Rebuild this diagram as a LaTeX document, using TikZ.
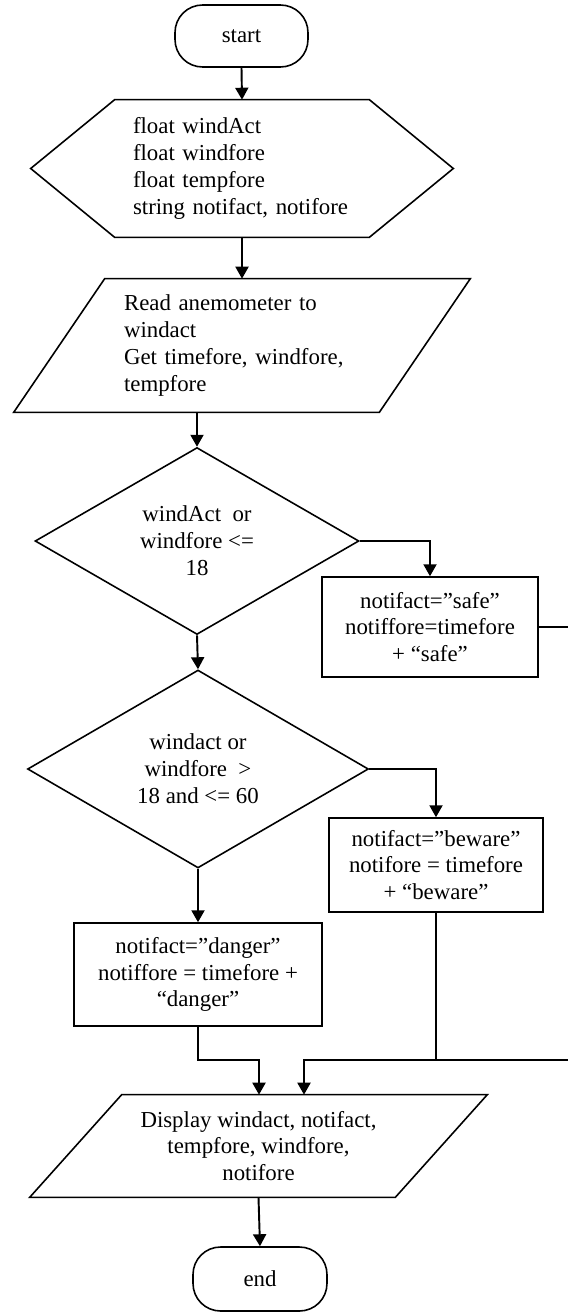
\documentclass[tikz,border=0pt]{standalone}
\usepackage{fontspec}
\setmainfont{Liberation Serif}
\usetikzlibrary{shapes.geometric,arrows.meta}

\begin{document}
\begin{tikzpicture}[x=0.02cm,y=-0.02cm]
    \tikzstyle{every node}=[font=\fontsize{13}{15.3}\selectfont,inner sep=0pt]
    \tikzstyle{arr}=[-{Triangle[length=6.8pt,width=7.4pt]},line width=1.1pt]
    \tikzstyle{outline}=[line width=0.9pt,line join=miter]
    \useasboundingbox (0,0) rectangle (568,1312);
    \fill[white] (0,0) rectangle (568,1312);
    \clip (0,0) rectangle (568,1312);

    % start
    \node[draw,outline,rounded corners=0.55cm,minimum width=2.66cm,minimum height=1.24cm] (start) at (241.5,36) {start};

    % declarations
    \node[minimum width=8.44cm,minimum height=2.74cm,text width=4.36cm,align=left] (decl) at (242,168.5) {float windAct\\float windfore\\float tempfore\\string notifact, notifore};
    \draw[outline] (decl.west) -- ([xshift=1.68cm]decl.north west) -- ([xshift=-1.68cm]decl.north east) -- (decl.east) -- ([xshift=-1.68cm]decl.south east) -- ([xshift=1.68cm]decl.south west) -- cycle;
    \draw[arr] (start.south) -- (decl.north);

    % input
    \node[minimum width=9.12cm,minimum height=2.66cm,text width=4.72cm,align=left] (readin) at (242,345.5) {Read anemometer to\\windact\\Get timefore, windfore,\\tempfore};
    \draw[outline] ([xshift=1.82cm]readin.north west) -- (readin.north east) -- ([xshift=-1.82cm]readin.south east) -- (readin.south west) -- cycle;
    \draw[arr] (decl.south) -- (readin.north);

    % first test
    \node[draw,outline,diamond,aspect=1.73,minimum width=6.48cm,minimum height=3.74cm,align=center] (lowwind) at (197,541) {windAct~ or\\windfore <=\\18};
    \draw[arr] (readin.south -| lowwind.north) -- (lowwind.north);

    % safe
    \node[draw,outline,minimum width=4.32cm,minimum height=2cm,align=center] (safe) at (430,627) {notifact=”safe”\\notiffore=timefore\\+ “safe”};
    \draw[arr] (lowwind.east) -| (safe.north);

    % second test
    \node[draw,outline,diamond,aspect=1.73,minimum width=6.82cm,minimum height=3.96cm,align=center] (midwind) at (198,769) {windact or\\windfore~ >\\18 and <= 60};
    \draw[arr] (lowwind.south) -- (midwind.north);

    % beware
    \node[draw,outline,minimum width=4.28cm,minimum height=1.88cm,align=center] (beware) at (436,865) {notifact=”beware”\\notifore = timefore\\+ “beware”};
    \draw[arr] (midwind.east) -| (beware.north);

    % danger
    \node[draw,outline,minimum width=4.96cm,minimum height=2.06cm,align=center] (danger) at (198,974.5) {notifact=”danger”\\notiffore = timefore +\\“danger”};
    \draw[arr] (midwind.south) -- (danger.north);

    % output
    \node[minimum width=9.14cm,minimum height=2.04cm,align=center] (display) at (258.5,1146) {Display windact, notifact,\\tempfore, windfore,\\notifore};
    \draw[outline] ([xshift=1.84cm]display.north west) -- (display.north east) -- ([xshift=-1.84cm]display.south east) -- (display.south west) -- cycle;

    % joining lines
    \coordinate (mergel) at (259,1060);
    \coordinate (merger) at (304,1060);
    \draw[arr] (danger.south) |- (mergel) -- (mergel |- display.north);
    \draw[arr] (beware.south) |- (merger) -- (merger |- display.north);
    \draw[line width=0.8pt] (safe.east) -- ++(52,0) |- (beware.south |- merger);

    % end
    \node[draw,outline,rounded corners=0.55cm,minimum width=2.68cm,minimum height=1.28cm] (stop) at (260,1279) {end};
    \draw[arr] (display.south) -- (stop.north);

\end{tikzpicture}
\end{document}
